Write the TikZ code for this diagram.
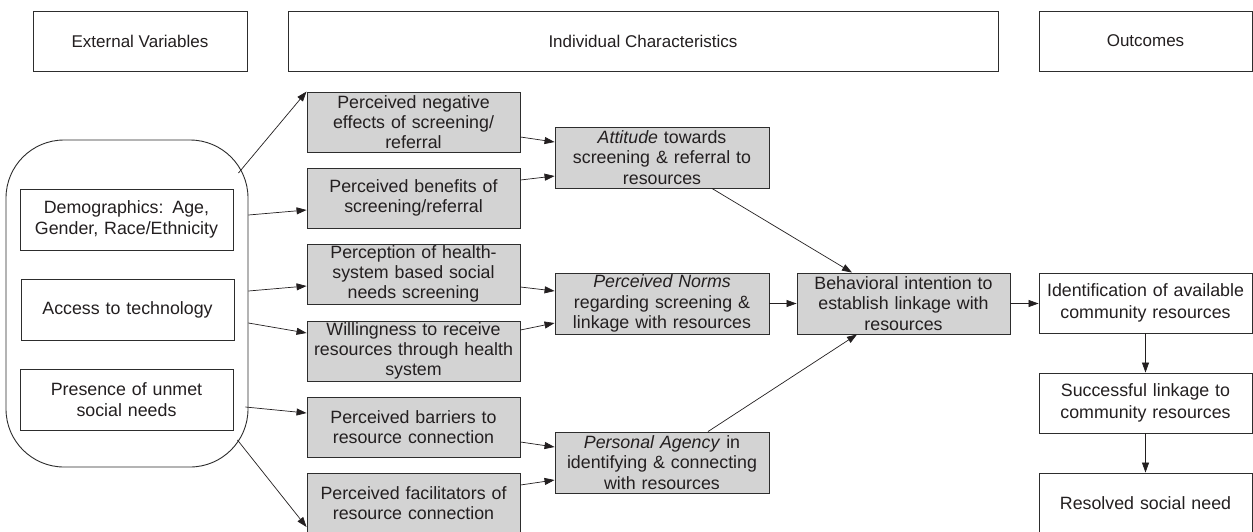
\documentclass[tikz,border=0pt]{standalone}
\usepackage{fontspec}
\setmainfont{Liberation Sans}
\usetikzlibrary{arrows.meta}
\definecolor{ink}{RGB}{35,31,32}
\definecolor{gfill}{RGB}{211,211,211}
\definecolor{edge}{RGB}{45,45,45}
\tikzset{
  hdr/.style={draw=edge, line width=0.9pt, fill=white, minimum width=#1, minimum height=60pt, inner sep=0pt, text=ink,
    font=\fontsize{17}{20}\selectfont},
  wbox/.style={draw=edge, line width=0.9pt, fill=white, minimum width=213pt, minimum height=61pt, inner sep=0pt,
    text width=209pt, align=center, text=ink, font=\fontsize{17.8}{21.5}\selectfont},
  gbox/.style={draw=edge, line width=0.9pt, fill=gfill, minimum width=213pt, minimum height=60pt, inner sep=0pt,
    text width=209pt, align=center, text=ink, font=\fontsize{17.8}{20.3}\selectfont},
  conn/.style={draw=ink, line width=0.7pt, -{Triangle[length=10pt,width=7pt]}},
}
\begin{document}
\begin{tikzpicture}[x=1pt, y=-1pt]
\useasboundingbox (0,0) rectangle (1253,531);
\clip (0,0) rectangle (1253,531);
\fill[white] (0,0) rectangle (1253,531);
% headers
\node[hdr=214pt] (ev) at (140,41) {External Variables};
\node[hdr=710pt] (ic) at (643,41) {Individual Characteristics};
\node[hdr=213pt] (oc) at (1145.5,41) {Outcomes};
% external variables group
\node[draw=edge, line width=0.9pt, rounded corners=58pt, minimum width=242pt, minimum height=327pt, inner sep=0pt] (rb) at (127,303.5) {};
\node[wbox] (dem) at (126.5,219.5) {Demographics: Age,\\Gender, Race/Ethnicity};
\node[wbox] (acc) at (127.5,309.5) {Access to technology};
\node[wbox] (pre) at (126.5,399.5) {Presence of unmet\\social needs};
% column 1
\node[gbox] (g1) at (413.5,122) {Perceived negative\\effects of screening/\\referral};
\node[gbox] (g2) at (413.5,198) {Perceived benefits of\\screening/referral};
\node[gbox] (g3) at (413.5,274) {Perception of health-\\system based social\\needs screening};
\node[gbox] (g4) at (413.5,351) {Willingness to receive\\resources through health\\system};
\node[gbox] (g5) at (413.5,427) {Perceived barriers to\\resource connection};
\node[gbox] (g6) at (413.5,503) {Perceived facilitators of\\resource connection};
% column 2
\node[gbox, minimum width=214pt, minimum height=61pt] (att) at (662,157.5) {\textit{Attitude} towards\\screening \& referral to\\resources};
\node[gbox, minimum width=214pt, minimum height=61pt] (nor) at (662,303.5) {\textit{Perceived Norms}\\regarding screening \&\\linkage with resources};
\node[gbox, minimum width=214pt, minimum height=61pt] (age) at (662,462.5) {\textit{Personal Agency} in\\identifying \& connecting\\with resources};
% behavioral intention
\node[gbox, minimum height=61pt] (beh) at (903.5,303.5) {Behavioral intention to\\establish linkage with\\resources};
% outcomes
\node[wbox, minimum height=60pt] (o1) at (1145.5,303) {Identification of available\\community resources};
\node[wbox, minimum height=60pt] (o2) at (1145.5,403) {Successful linkage to\\community resources};
\node[wbox, minimum height=60pt] (o3) at (1145.5,503) {Resolved social need};
% arrows from external variables
\draw[conn] ([xshift=-10pt,yshift=130.5pt]rb.east) -- (g1.north west);
\draw[conn] ([yshift=88.5pt]rb.east) -- ([yshift=-12pt]g2.west);
\draw[conn] ([yshift=12.5pt]rb.east) -- ([yshift=-12pt]g3.west);
\draw[conn] ([yshift=-19.5pt]rb.east) -- ([yshift=18pt]g4.west);
\draw[conn] ([xshift=-3pt,yshift=-103.5pt]rb.east) -- ([yshift=14pt]g5.west);
\draw[conn] ([xshift=-11pt,yshift=-136.5pt]rb.east) -- ([yshift=-24pt]g6.west);
% column 1 to column 2
\draw[conn] ([yshift=-15pt]g1.east) -- ([yshift=15.5pt]att.west);
\draw[conn] ([yshift=18pt]g2.east) -- ([yshift=-18.5pt]att.west);
\draw[conn] ([yshift=-13pt]g3.east) -- ([yshift=12.5pt]nor.west);
\draw[conn] ([yshift=21pt]g4.east) -- ([yshift=-19.5pt]nor.west);
\draw[conn] ([yshift=-15pt]g5.east) -- ([yshift=15.5pt]age.west);
\draw[conn] ([yshift=18pt]g6.east) -- ([yshift=-17.5pt]age.west);
% column 2 to behavioral
\draw[conn] ([xshift=50pt]att.south) -- ([xshift=-51.5pt]beh.north);
\draw[conn] (nor.east) -- (beh.west);
\draw[conn] ([xshift=46pt]age.north) -- ([xshift=-46.5pt]beh.south);
% outcomes
\draw[conn] (beh.east) -- (beh.east -| o1.west);
\draw[conn] (o1.south) -- (o2.north);
\draw[conn] (o2.south) -- (o3.north);
\end{tikzpicture}
\end{document}
